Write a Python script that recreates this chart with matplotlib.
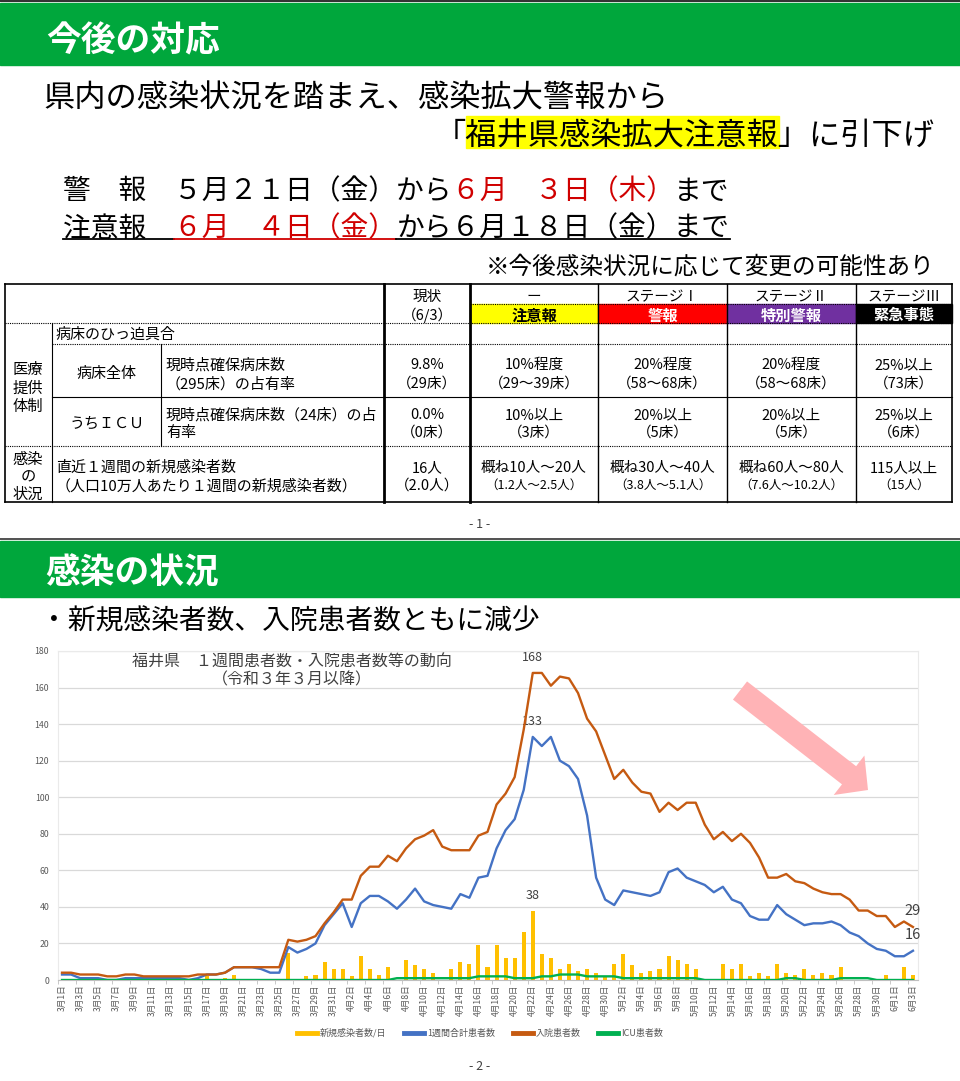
import matplotlib
matplotlib.use('Agg')
import matplotlib.pyplot as plt
from matplotlib.patches import Rectangle, FancyArrow
from matplotlib.lines import Line2D

plt.rcParams['font.family'] = ['Noto Sans CJK JP', 'DejaVu Sans']

# ---- chart data (3/1 .. 6/3)
dates = ([f'3月{d}日' for d in range(1, 32)] + [f'4月{d}日' for d in range(1, 31)]
         + [f'5月{d}日' for d in range(1, 32)] + [f'6月{d}日' for d in range(1, 4)])

new_cases = [0, 0, 0, 0, 0, 0, 0, 0, 0, 0,
             0, 0, 0, 0, 0, 0, 2, 0, 1, 3,
             0, 0, 0, 0, 0, 15, 0, 2, 3, 10,
             6, 6, 2, 13, 6, 3, 7, 0, 11, 8,
             6, 4, 0, 6, 10, 9, 19, 7, 19, 12,
             12, 26, 38, 14, 12, 6, 9, 5, 6, 4,
             2, 9, 14, 8, 4, 5, 6, 13, 11, 9,
             6, 0, 0, 9, 6, 9, 2, 4, 2, 9,
             4, 3, 6, 3, 4, 3, 7, 0, 0, 0,
             0, 3, 0, 7, 3]

weekly = [3, 3, 1, 1, 1, 0, 0, 1, 1, 1,
          1, 1, 1, 1, 0, 1, 3, 3, 4, 7,
          7, 7, 6, 4, 4, 18, 15, 17, 20, 30,
          36, 42, 29, 42, 46, 46, 43, 39, 44, 50,
          43, 41, 40, 39, 47, 45, 56, 57, 72, 82,
          88, 104, 133, 128, 133, 120, 117, 110, 90, 56,
          44, 41, 49, 48, 47, 46, 48, 59, 61, 56,
          54, 52, 48, 51, 44, 42, 35, 33, 33, 41,
          36, 33, 30, 31, 31, 32, 30, 26, 24, 20,
          17, 16, 13, 13, 16]

hospital = [4, 4, 3, 3, 3, 2, 2, 3, 3, 2,
            2, 2, 2, 2, 2, 3, 3, 3, 4, 7,
            7, 7, 7, 7, 7, 22, 21, 22, 24, 31,
            37, 44, 44, 57, 62, 62, 68, 65, 72, 77,
            79, 82, 73, 71, 71, 71, 79, 81, 96, 102,
            111, 137, 168, 168, 161, 166, 165, 157, 143, 136,
            123, 110, 115, 108, 103, 102, 92, 97, 93, 97,
            97, 85, 77, 81, 76, 80, 75, 67, 56, 56,
            58, 54, 53, 50, 48, 47, 47, 44, 38, 38,
            35, 35, 29, 32, 29]

icu = [0] * 37 + [1, 1, 1, 1, 1, 1, 1, 1, 1,
                  2, 2, 2, 2, 1, 1, 1, 2, 2, 3,
                  3, 3, 2, 2, 2, 2, 1, 1, 1, 1,
                  1, 1, 1, 1, 1, 0, 0, 0, 0, 0,
                  0, 0, 0, 0, 1, 1, 0, 0, 0, 0,
                  1, 1, 1, 1, 0, 0, 0, 0, 0]

series_names = ['新規感染者数/日', '1週間合計患者数', '入院患者数', 'ICU患者数']
series_colors = ['#FFC000', '#4472C4', '#C55A11', '#00B050']

# ---- table text
stage_heads = ['ー', 'ステージⅠ', 'ステージⅡ', 'ステージⅢ']
stage_labels = ['注意報', '警報', '特別警報', '緊急事態']
stage_colors = ['#FFFF00', '#FF0000', '#7030A0', '#000000']
stage_text_colors = ['black', 'white', 'white', 'white']
bed_all = [('10%程度', '（29〜39床）'), ('20%程度', '（58〜68床）'),
           ('20%程度', '（58〜68床）'), ('25%以上', '（73床）')]
bed_icu = [('10%以上', '（3床）'), ('20%以上', '（5床）'),
           ('20%以上', '（5床）'), ('25%以上', '（6床）')]
infect = [('概ね10人〜20人', '（1.2人〜2.5人）'), ('概ね30人〜40人', '（3.8人〜5.1人）'),
          ('概ね60人〜80人', '（7.6人〜10.2人）'), ('115人以上', '（15人）')]

W, H = 960, 1081
fig = plt.figure(figsize=(W / 100, H / 100), dpi=100)
bg = fig.add_axes([0, 0, 1, 1])
bg.set_xlim(0, W)
bg.set_ylim(H, 0)
bg.axis('off')


def T(x, y, s, **kw):
    # centre CJK glyphs a little lower than matplotlib's bbox centre
    kw.setdefault('va', 'center')
    fs = kw.get('fontsize', 10)
    return fig.text(x / W, 1 - (y + 0.13 * fs * 100 / 72) / H, s, **kw)


GREEN = '#00A73C'
RED = '#D00000'

# ---- slide 1
bg.plot([0, W], [1, 1], color='#333333', lw=1.5)
bg.add_patch(Rectangle((0, 3), W, 62, color=GREEN))
T(46, 36, '今後の対応', fontsize=25, fontweight='bold', color='white')

T(43, 95, '県内の感染状況を踏まえ、感染拡大警報から', fontsize=22.5)
em = 22.5 * 100 / 72
x0 = 935 - 16 * em
bg.add_patch(Rectangle((x0 + em, 116), 10 * em, 32, color='#FFFF00'))
T(x0, 132, '「福井県感染拡大注意報」に引下げ', fontsize=22.5)

em = 20 * 100 / 72
xs = 63
for s, c in [('警　報　５月２１日（金）から', 'black'), ('６月　３日（木）', RED), ('まで', 'black')]:
    T(xs, 188, s, fontsize=20, color=c)
    xs += len(s) * em
xs = 63
for s, c in [('注意報　', 'black'), ('６月　４日（金）', RED), ('から６月１８日（金）まで', 'black')]:
    T(xs, 225, s, fontsize=20, color=c)
    bg.plot([xs, xs + len(s) * em], [239, 239], color=c, lw=1.3)
    xs += len(s) * em

T(935, 264, '※今後感染状況に応じて変更の可能性あり', fontsize=17, ha='right')

# ---- table
L, C1, C2, C3, C4, R = 5, 52, 161, 384, 470, 952
cols = [470, 598, 727, 856, 952]
dot = (0, (1, 1))
bg.plot([L, R], [284, 284], color='black', lw=1.2)
bg.plot([L, R], [502, 502], color='black', lw=1.2)
bg.plot([L, R], [323, 323], color='black', lw=0.8, ls=dot)
bg.plot([C1, R], [344, 344], color='black', lw=0.8, ls=dot)
bg.plot([C1, R], [397, 397], color='black', lw=0.8)
bg.plot([L, R], [446, 446], color='black', lw=0.8, ls=dot)
bg.plot([C4, R], [304, 304], color='black', lw=0.8, ls=dot)
bg.plot([L, L], [284, 502], color='black', lw=1.2)
bg.plot([C1, C1], [323, 502], color='black', lw=0.8)
bg.plot([C2, C2], [344, 446], color='black', lw=0.8)
bg.plot([C3, C3], [284, 502], color='black', lw=2)
bg.plot([C4, C4], [284, 502], color='black', lw=2)
for cx in cols[1:4]:
    bg.plot([cx, cx], [284, 502], color='black', lw=1)
bg.plot([R, R], [284, 502], color='black', lw=1.2)

for k in range(4):
    xa, xb = cols[k], cols[k + 1]
    xm = (xa + xb) / 2
    bg.add_patch(Rectangle((xa, 304), xb - xa, 19, color=stage_colors[k]))
    T(xm, 295, stage_heads[k], fontsize=10.5, ha='center')
    T(xm, 313.5, stage_labels[k], fontsize=11, ha='center', fontweight='bold',
      color=stage_text_colors[k])
    T(xm, 363, bed_all[k][0], fontsize=10.5, ha='center')
    T(xm, 382, bed_all[k][1], fontsize=10.5, ha='center')
    T(xm, 413, bed_icu[k][0], fontsize=10.5, ha='center')
    T(xm, 431, bed_icu[k][1], fontsize=10.5, ha='center')
    T(xm, 466, infect[k][0], fontsize=10.5, ha='center')
    T(xm, 484, infect[k][1], fontsize=9, ha='center')

cm = (C3 + C4) / 2
T(cm, 295, '現状', fontsize=10.5, ha='center')
T(cm, 313, '（6/3）', fontsize=10.5, ha='center')
T(cm, 363, '9.8%', fontsize=10.5, ha='center')
T(cm, 382, '（29床）', fontsize=10.5, ha='center')
T(cm, 413, '0.0%', fontsize=10.5, ha='center')
T(cm, 431, '（0床）', fontsize=10.5, ha='center')
T(cm, 466, '16人', fontsize=10.5, ha='center')
T(cm, 484, '（2.0人）', fontsize=10.5, ha='center')

T(55, 333, '病床のひっ迫具合', fontsize=10.8)
for yy, s in zip([368, 386, 404], ['医療', '提供', '体制']):
    T(28, yy, s, fontsize=11, ha='center')
for yy, s in zip([458, 475, 492], ['感染', 'の', '状況']):
    T(28, yy, s, fontsize=11, ha='center')
T(106, 372, '病床全体', fontsize=10.8, ha='center')
T(107, 422, 'うちＩＣＵ', fontsize=10.8, ha='center')
T(166, 363, '現時点確保病床数', fontsize=10.8)
T(166, 382, '（295床）の占有率', fontsize=10.8)
T(166, 413, '現時点確保病床数（24床）の占', fontsize=10.8)
T(166, 431, '有率', fontsize=10.8)
T(56, 466, '直近１週間の新規感染者数', fontsize=10.8)
T(56, 484, '（人口10万人あたり１週間の新規感染者数）', fontsize=10.8)

T(480, 523, '- 1 -', fontsize=9, ha='center', color='#404040')

# ---- slide 2
bg.plot([0, W], [539, 539], color='#333333', lw=1.2)
bg.add_patch(Rectangle((0, 541), W, 56, color=GREEN))
T(45, 569, '感染の状況', fontsize=25, fontweight='bold', color='white')
T(40, 618, '・新規感染者数、入院患者数ともに減少', fontsize=20)
T(480, 1065, '- 2 -', fontsize=9, ha='center', color='#404040')

# ---- chart
ax = fig.add_axes([57.5 / W, (H - 980) / H, 860 / W, 329 / H])
x = list(range(len(dates)))
ax.bar(x, new_cases, width=0.45, color=series_colors[0], zorder=2)
ax.plot(x, weekly, color=series_colors[1], lw=1.7, zorder=3)
ax.plot(x, hospital, color=series_colors[2], lw=1.7, zorder=4)
ax.plot(x, icu, color=series_colors[3], lw=1.7, zorder=5)

ax.set_xlim(-0.5, len(dates) - 0.5)
ax.set_ylim(0, 180)
ax.set_yticks(range(0, 181, 20))
ax.grid(axis='y', color='#D9D9D9', lw=0.9, zorder=0)
ax.set_axisbelow(True)
for sp in ['left', 'top', 'right']:
    ax.spines[sp].set_color('#EAEAEA')
ax.spines['bottom'].set_color('#BFBFBF')
ax.tick_params(axis='y', labelsize=6.3, colors='#595959', length=0, pad=6)
ax.set_xticks(x[::2])
ax.set_xticklabels(dates[::2], rotation=90, fontsize=6.2, color='#595959')
ax.set_xticks([k - 0.5 for k in range(0, len(dates) + 1, 2)], minor=True)
ax.tick_params(axis='x', which='major', length=0, pad=3)
ax.tick_params(axis='x', which='minor', length=3, color='#BFBFBF')

pk = hospital.index(max(hospital))
for yv in [hospital[pk], weekly[pk], new_cases[pk]]:
    ax.annotate(str(yv), (pk, yv), xytext=(0, 11), textcoords='offset points',
                ha='center', va='center', fontsize=9, color='#404040')
last = len(dates) - 1
for yv in [hospital[last], weekly[last]]:
    ax.annotate(str(yv), (last, yv), xytext=(0, 11.5), textcoords='offset points',
                ha='center', va='center', fontsize=10.5, color='#404040')

T(292, 660, '福井県　１週間患者数・入院患者数等の動向', fontsize=11.5, ha='center', color='#404040')
T(292, 678, '（令和３年３月以降）', fontsize=11.5, ha='center', color='#404040')

arrow = FancyArrow(740, 690.5, 128, 99.5, width=23, head_width=50, head_length=24,
                   length_includes_head=True, color='#FFB3B6', lw=0,
                   transform=bg.transData, zorder=6)
fig.add_artist(arrow)

handles = [Line2D([], [], color=c, lw=3.5) for c in series_colors]
fig.legend(handles, series_names, loc='center', bbox_to_anchor=(0.5, 1 - 1033 / H),
           ncol=4, frameon=False, fontsize=6.5, handlelength=2.2, columnspacing=2.0,
           handletextpad=0.3, labelcolor='#595959')

plt.savefig('out.png', dpi=100)
